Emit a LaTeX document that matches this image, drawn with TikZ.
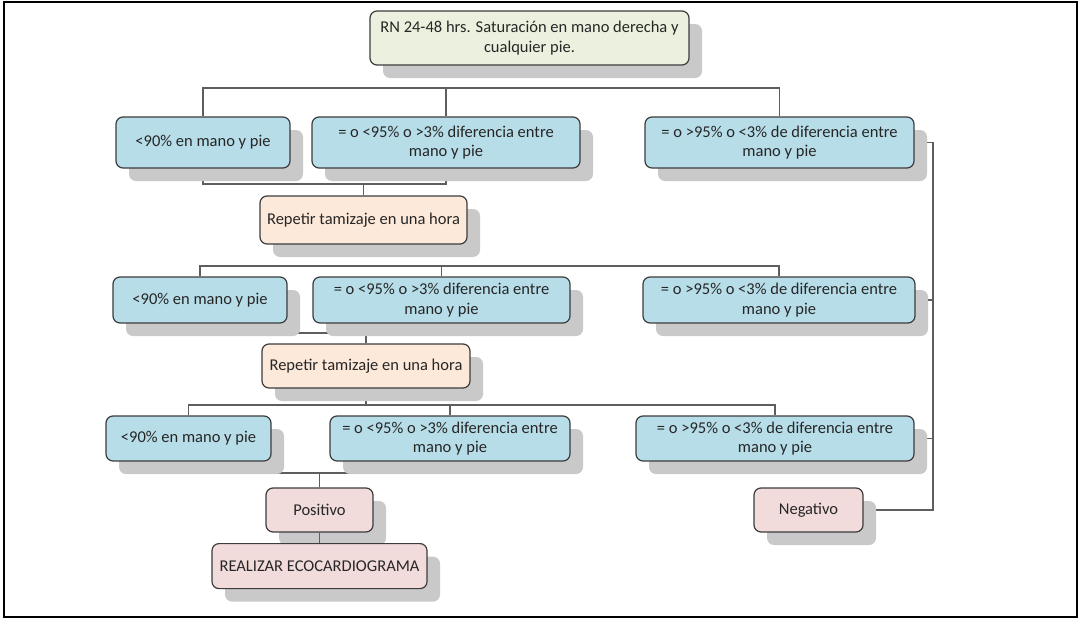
\documentclass[tikz,border=0pt]{standalone}
\usepackage{fontspec}
\setmainfont{Carlito}
\usepackage{tikz}
\usepackage{xcolor}
\usetikzlibrary{positioning,backgrounds,shadows,calc}
\definecolor{rootbg}{HTML}{EBF1DE}
\definecolor{testbg}{HTML}{B7DDE8}
\definecolor{redobg}{HTML}{FDE9D9}
\definecolor{outbg}{HTML}{F2DCDB}
\definecolor{edgegrey}{HTML}{3C3C3C}
\definecolor{linegrey}{HTML}{5E5E5E}
\definecolor{shadowgrey}{HTML}{C9C9C9}
\definecolor{txtgrey}{HTML}{262626}
\tikzset{
  box/.style={
    draw=edgegrey, rounded corners=7pt, align=center, inner sep=3pt,
    line width=1.2pt, text=txtgrey,
    font=\fontsize{16.5}{19.5}\selectfont,
    drop shadow={shadow xshift=13pt, shadow yshift=-13pt,
                 fill=shadowgrey, opacity=1},
  },
  root/.style={box, fill=rootbg},
  test/.style={box, fill=testbg},
  redo/.style={box, fill=redobg},
  result/.style={box, fill=outbg},
  conn/.style={draw=linegrey, line width=1.2pt},
}

\begin{document}
\begin{tikzpicture}[x=1pt, y=-1pt]
\useasboundingbox (0,0) rectangle (1084,621);
\draw[line width=2pt] (4,2) rectangle (1077,617);

% ============================================ first screening
\node[root, minimum width=319pt, minimum height=54pt] (root) at (529.5,38)
  {RN 24-48 hrs. Saturación en mano derecha y\\cualquier pie.};

\node[test, minimum width=174pt, minimum height=51pt] (a1) at (203,142.5)
  {<90\% en mano y pie};
\node[test, minimum width=268pt, minimum height=51pt] (b1) at (446,142.5)
  {= o <95\% o >3\% diferencia entre\\mano y pie};
\node[test, minimum width=269pt, minimum height=51pt] (c1) at (779.5,142.5)
  {= o >95\% o <3\% de diferencia entre\\mano y pie};

\node[redo, minimum width=207pt, minimum height=48pt] (r1) at (363.5,220)
  {Repetir tamizaje en una hora};

% ============================================ second screening
\node[test, minimum width=174pt, minimum height=46pt] (a2) at (200,300)
  {<90\% en mano y pie};
\node[test, minimum width=257pt, minimum height=46pt] (b2) at (441.5,300)
  {= o <95\% o >3\% diferencia entre\\mano y pie};
\node[test, minimum width=272pt, minimum height=46pt] (c2) at (779,300)
  {= o >95\% o <3\% de diferencia entre\\mano y pie};

\node[redo, minimum width=208pt, minimum height=44pt] (r2) at (366,366)
  {Repetir tamizaje en una hora};

% ============================================ third screening
\node[test, minimum width=165pt, minimum height=45pt] (a3) at (188.5,438.5)
  {<90\% en mano y pie};
\node[test, minimum width=240pt, minimum height=45pt] (b3) at (450,438.5)
  {= o <95\% o >3\% diferencia entre\\mano y pie};
\node[test, minimum width=278pt, minimum height=45pt] (c3) at (775,438.5)
  {= o >95\% o <3\% de diferencia entre\\mano y pie};

% ============================================ outcome
\node[result, minimum width=107pt, minimum height=44pt] (pos) at (319.5,510)
  {Positivo};
\draw[conn] (pos.south) -- (319.5,543) coordinate (ecotop);
\node[result, minimum width=215pt, minimum height=45pt, anchor=north] (eco)
  at (ecotop) {REALIZAR ECOCARDIOGRAMA};
\node[result, minimum width=109pt, minimum height=44pt] (neg) at (808.5,510)
  {Negativo};

\coordinate (bus) at (933,0);

% the shadows are opaque and lie over the connectors, so these go underneath
\begin{scope}[on background layer]
  \draw[conn] (a1.north) -- (a1.north |- 0,88) -| (c1.north);
  \draw[conn] (b1.north) -- (b1.north |- 0,88);
  \draw[conn] (a1.south) -- (a1.south |- 0,184) -| (b1.south);
  \draw[conn] (r1.north) -- (r1.north |- 0,184);

  \draw[conn] (a2.north) -- (a2.north |- 0,266) -| (c2.north);
  \draw[conn] (b2.north) -- (b2.north |- 0,266);
  \draw[conn] (a2.south) -- (a2.south |- 0,333) -| (b2.south);
  \draw[conn] (r2.north) -- (r2.north |- 0,333);

  \draw[conn] (r2.south) -- (r2.south |- 0,405);
  \draw[conn] (a3.north) -- (a3.north |- 0,405) -| (c3.north);
  \draw[conn] (b3.north) -- (b3.north |- 0,405);
  \draw[conn] (a3.south) -- (a3.south |- 0,473) -| (b3.south);
  \draw[conn] (pos.north) -- (pos.north |- 0,473);

  \draw[conn] (c1.east) -| (bus |- neg.east) -- (neg.east);
  \draw[conn] (c2.east) -- (c2.east -| bus);
  \draw[conn] (c3.east) -- (c3.east -| bus);
\end{scope}

\end{tikzpicture}
\end{document}
